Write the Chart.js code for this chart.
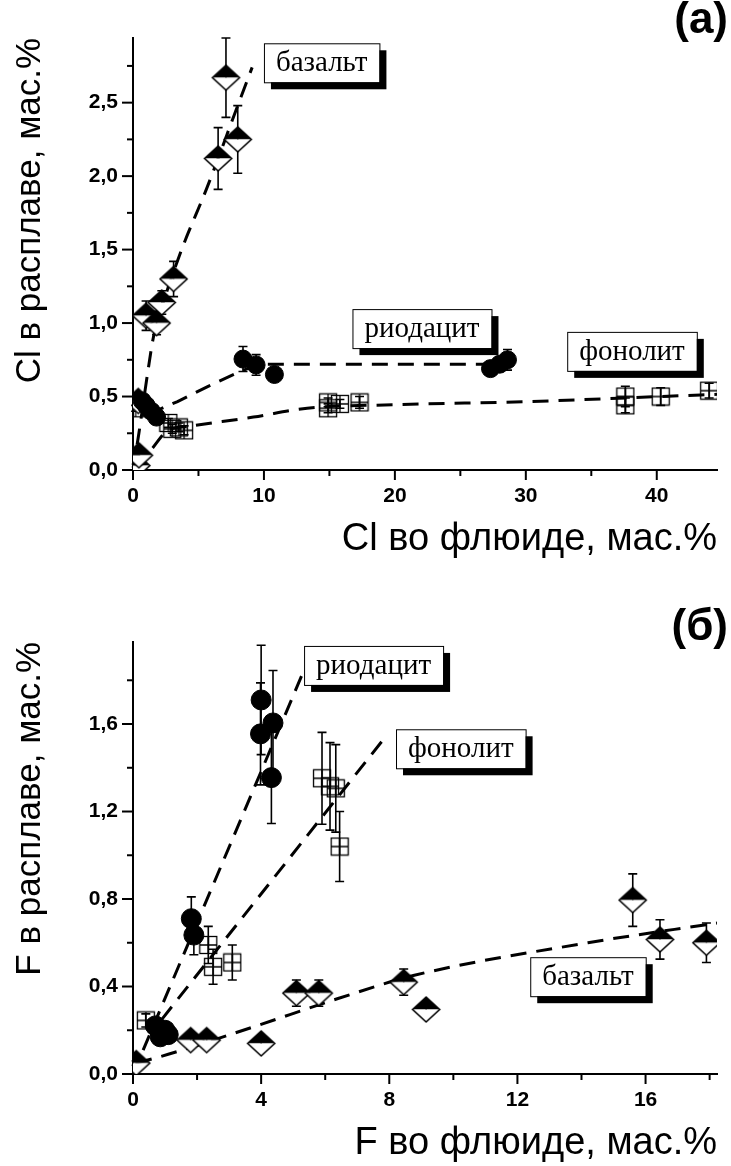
<!DOCTYPE html>
<html>
<head>
<meta charset="utf-8">
<script src="https://cdn.jsdelivr.net/npm/chart.js@4.4.0/dist/chart.umd.min.js"></script>
<style>
  html, body { margin: 0; padding: 0; background: #fff; }
  .panel { width: 731px; height: 583px; position: relative; }
</style>
</head>
<body>
<div class="panel"><canvas id="chartA" width="731" height="583"></canvas></div>
<div class="panel"><canvas id="chartB" width="731" height="583"></canvas></div>
<script>
// ---------- (a) Cl ----------
const basaltA_x   = [0.25, 0.45, 0.4, 1.0, 1.8, 2.2, 3.1, 6.5, 7.1, 8.0];
const basaltA_y   = [0.03, 0.10, 0.47, 1.05, 1.00, 1.14, 1.30, 2.12, 2.67, 2.25];
const basaltA_err = [0.01, 0.02, 0.03, 0.10, 0.08, 0.08, 0.12, 0.21, 0.27, 0.23];

const rhyoA_x   = [0.7, 1.0, 1.4, 1.8, 8.4, 9.4, 10.8, 27.3, 28.0, 28.6];
const rhyoA_y   = [0.47, 0.44, 0.40, 0.36, 0.755, 0.715, 0.65, 0.69, 0.72, 0.75];
const rhyoA_err = [0.03, 0.03, 0.03, 0.03, 0.085, 0.07, 0.04, 0.04, 0.05, 0.07];

const phonoA_x   = [0.2, 2.7, 3.0, 3.5, 3.9, 14.9, 14.9, 15.8, 17.3, 37.6, 37.6, 40.3, 44.0];
const phonoA_y   = [0.42, 0.32, 0.28, 0.29, 0.27, 0.46, 0.42, 0.45, 0.46, 0.50, 0.44, 0.50, 0.54];
const phonoA_err = [0.02, 0.03, 0.03, 0.03, 0.03, 0.03, 0.03, 0.03, 0.04, 0.07, 0.05, 0.06, 0.05];

const basLineA_x = [0, 0.45, 1.15, 1.55, 2.0, 2.6, 3.8, 5.6, 8.0, 9.1];
const basLineA_y = [0, 0.25, 0.68, 0.90, 1.05, 1.22, 1.52, 1.91, 2.48, 2.74];
const rhyoLineA_x = [1.2, 3.4, 5.7, 8.0, 9.6, 28.0];
const rhyoLineA_y = [0.38, 0.466, 0.568, 0.663, 0.72, 0.72];
const phonoLineA_x = [1.5, 2.6, 4.5, 9.2, 13.3, 20.4, 30, 35.7, 44.6];
const phonoLineA_y = [0.15, 0.265, 0.30, 0.36, 0.42, 0.445, 0.465, 0.484, 0.515];

const xTicksA  = [0, 5, 10, 15, 20, 25, 30, 35, 40];
const xLabelsA = ['0', '', '10', '', '20', '', '30', '', '40'];
const yTicksA  = [0, 0.25, 0.5, 0.75, 1, 1.25, 1.5, 1.75, 2, 2.25, 2.5, 2.75];
const yLabelsA = ['0,0', '', '0,5', '', '1,0', '', '1,5', '', '2,0', '', '2,5', ''];

// ---------- (б) F ----------
const basaltB_x   = [0.1, 1.8, 2.3, 4.0, 5.1, 5.8, 8.45, 9.15, 15.6, 16.45, 17.9];
const basaltB_y   = [0.05, 0.155, 0.155, 0.14, 0.37, 0.37, 0.42, 0.295, 0.795, 0.615, 0.60];
const basaltB_err = [0.01, 0.02, 0.02, 0.03, 0.06, 0.06, 0.06, 0.02, 0.12, 0.09, 0.09];

const rhyoB_x   = [0.7, 0.85, 1.0, 1.1, 1.82, 1.9, 4.0, 3.98, 4.37, 4.32];
const rhyoB_y   = [0.22, 0.17, 0.20, 0.18, 0.71, 0.635, 1.71, 1.555, 1.605, 1.355];
const rhyoB_err = [0.02, 0.02, 0.02, 0.02, 0.10, 0.09, 0.25, 0.233, 0.24, 0.21];

const phonoB_x   = [0.4, 2.35, 2.5, 3.1, 5.9, 6.15, 6.33, 6.45];
const phonoB_y   = [0.245, 0.59, 0.49, 0.51, 1.352, 1.315, 1.306, 1.04];
const phonoB_err = [0.03, 0.085, 0.08, 0.08, 0.21, 0.20, 0.20, 0.16];

const basLineB_x = [0.1, 1.1, 3.75, 6.4, 8.75, 14.2, 18.23];
const basLineB_y = [0.05, 0.09, 0.215, 0.345, 0.45, 0.60, 0.69];
const rhyoLineB_x = [0, 5.35];
const rhyoLineB_y = [0, 1.85];
const phonoLineB_x = [0.9, 7.9];
const phonoLineB_y = [0.25, 1.545];

const xTicksB  = [0, 2, 4, 6, 8, 10, 12, 14, 16, 18];
const xLabelsB = ['0', '', '4', '', '8', '', '12', '', '16', ''];
const yTicksB  = [0, 0.2, 0.4, 0.6, 0.8, 1.0, 1.2, 1.4, 1.6, 1.8];
const yLabelsB = ['0,0', '', '0,4', '', '0,8', '', '1,2', '', '1,6', ''];

// ---------- marker images ----------
function makeDiamond(w, h) {
  const c = document.createElement('canvas');
  c.width = w + 4; c.height = h + 4;
  const g = c.getContext('2d');
  const cx = c.width / 2, cy = c.height / 2;
  g.beginPath(); g.moveTo(cx, cy - h / 2); g.lineTo(cx + w / 2, cy); g.lineTo(cx - w / 2, cy); g.closePath();
  g.fillStyle = '#000'; g.fill();
  g.beginPath(); g.moveTo(cx - w / 2, cy); g.lineTo(cx + w / 2, cy); g.lineTo(cx, cy + h / 2); g.closePath();
  g.fillStyle = '#fff'; g.fill();
  g.beginPath(); g.moveTo(cx, cy - h / 2); g.lineTo(cx + w / 2, cy); g.lineTo(cx, cy + h / 2); g.lineTo(cx - w / 2, cy); g.closePath();
  g.lineWidth = 1.6; g.strokeStyle = '#000'; g.stroke();
  return c;
}
function makeSquare(s) {
  const c = document.createElement('canvas');
  c.width = s + 3; c.height = s + 3;
  const g = c.getContext('2d');
  const o = 1.5, m = c.width / 2;
  g.strokeStyle = '#000'; g.lineWidth = 1.3;
  g.strokeRect(o, o, s, s);
  g.beginPath(); g.moveTo(m, o); g.lineTo(m, o + s); g.moveTo(o, m); g.lineTo(o + s, m); g.stroke();
  return c;
}
const diamondImg = makeDiamond(27, 25);
const squareImg = makeSquare(17);

function pts(xs, ys) { return xs.map((x, i) => ({ x: x, y: ys[i] })); }

// ---------- plugins ----------
const errorBars = {
  id: 'errorBars',
  beforeDatasetsDraw(chart) {
    const ctx = chart.ctx, sx = chart.scales.x, sy = chart.scales.y;
    ctx.save();
    ctx.strokeStyle = '#000'; ctx.lineWidth = 1.6;
    chart.data.datasets.forEach(ds => {
      if (!ds.errY) return;
      ds.data.forEach((p, i) => {
        const x = sx.getPixelForValue(p.x);
        const y1 = sy.getPixelForValue(p.y - ds.errY[i]);
        const y2 = sy.getPixelForValue(p.y + ds.errY[i]);
        ctx.beginPath();
        ctx.moveTo(x, y1); ctx.lineTo(x, y2);
        ctx.moveTo(x - 4.5, y1); ctx.lineTo(x + 4.5, y1);
        ctx.moveTo(x - 4.5, y2); ctx.lineTo(x + 4.5, y2);
        ctx.stroke();
      });
    });
    ctx.restore();
  }
};

const decorations = {
  id: 'decorations',
  afterDraw(chart, args, opts) {
    const ctx = chart.ctx, sx = chart.scales.x, sy = chart.scales.y;
    ctx.save();
    // tick marks, long for labelled ticks
    ctx.strokeStyle = '#000'; ctx.lineWidth = 2;
    sx.ticks.forEach(t => {
      const p = sx.getPixelForValue(t.value);
      ctx.beginPath(); ctx.moveTo(p, sx.top); ctx.lineTo(p, sx.top + (t.label ? 10 : 6)); ctx.stroke();
    });
    sy.ticks.forEach(t => {
      const p = sy.getPixelForValue(t.value);
      ctx.beginPath(); ctx.moveTo(sy.right, p); ctx.lineTo(sy.right - (t.label ? 11 : 6), p); ctx.stroke();
    });
    // boxed labels with shadow
    ctx.font = '29px "Liberation Serif", "DejaVu Serif", serif';
    ctx.textBaseline = 'middle';
    ctx.textAlign = 'left';
    opts.boxes.forEach(b => {
      const x = sx.getPixelForValue(b.x), y = sy.getPixelForValue(b.y);
      const w = ctx.measureText(b.text).width + 24, h = 39;
      ctx.fillStyle = '#000';
      ctx.fillRect(x + 7, y + 7, w, h);
      ctx.fillStyle = '#fff';
      ctx.fillRect(x, y, w, h);
      ctx.lineWidth = 1;
      ctx.strokeRect(x + 0.5, y + 0.5, w, h);
      ctx.fillStyle = '#000';
      ctx.fillText(b.text, x + 12, y + h / 2 + 1);
    });
    // panel tag
    ctx.font = 'bold 44px "Liberation Sans", Arial, sans-serif';
    ctx.textAlign = 'right';
    ctx.textBaseline = 'alphabetic';
    ctx.fillText(opts.tag.text, opts.tag.x, opts.tag.y);
    ctx.restore();
  }
};

Chart.defaults.font.family = '"Liberation Sans", Arial, sans-serif';
Chart.defaults.color = '#000';

function markerSet(xs, ys, err, kind, r) {
  return {
    data: pts(xs, ys),
    errY: err,
    pointStyle: kind === 'circle' ? 'circle' : (kind === 'diamond' ? diamondImg : squareImg),
    pointRadius: r,
    pointBackgroundColor: '#000',
    pointBorderColor: '#000',
    pointBorderWidth: 1,
    showLine: false
  };
}
function lineSet(xs, ys, curved) {
  return {
    data: pts(xs, ys),
    showLine: true,
    pointRadius: 0,
    borderColor: '#000',
    borderWidth: 3,
    borderDash: [16, 10],
    cubicInterpolationMode: curved ? 'monotone' : 'default',
    tension: curved ? 0.4 : 0,
    fill: false
  };
}

function makeChart(id, cfg) {
  return new Chart(document.getElementById(id), {
    type: 'scatter',
    data: { datasets: cfg.datasets },
    options: {
      responsive: false,
      animation: false,
      events: [],
      layout: { padding: { top: cfg.padTop, right: 14, left: 0, bottom: 0 } },
      plugins: {
        legend: { display: false },
        tooltip: { enabled: false },
        decorations: { boxes: cfg.boxes, tag: cfg.tag }
      },
      scales: {
        x: {
          type: 'linear', min: 0, max: cfg.xMax,
          afterBuildTicks: s => { s.ticks = cfg.xTicks.map(v => ({ value: v })); },
          afterFit: s => { s.height = cfg.xAxisH; },
          grid: { display: true, drawOnChartArea: false, drawTicks: false },
          border: { display: true, color: '#000', width: 2 },
          ticks: {
            padding: 14,
            maxRotation: 0,
            autoSkip: false,
            font: { size: 21, weight: 'bold' },
            callback: (v, i) => cfg.xLabels[i]
          },
          title: {
            display: true, text: cfg.xTitle, align: 'end',
            font: { size: 38 }, padding: { top: 0, bottom: cfg.xTitlePad }
          }
        },
        y: {
          type: 'linear', min: 0, max: cfg.yMax,
          afterBuildTicks: s => { s.ticks = cfg.yTicks.map(v => ({ value: v })); },
          afterFit: s => { s.width = 133; },
          grid: { display: true, drawOnChartArea: false, drawTicks: false },
          border: { display: true, color: '#000', width: 2 },
          ticks: {
            padding: 15,
            autoSkip: false,
            font: { size: 21, weight: 'bold' },
            callback: (v, i) => cfg.yLabels[i]
          },
          title: {
            display: true, text: cfg.yTitle, align: 'end',
            font: { size: 35 }, padding: { top: 9, bottom: 0 }
          }
        }
      }
    },
    plugins: [errorBars, decorations]
  });
}

makeChart('chartA', {
  datasets: [
    markerSet(rhyoA_x, rhyoA_y, rhyoA_err, 'circle', 9),
    markerSet(basaltA_x, basaltA_y, basaltA_err, 'diamond', 12),
    markerSet(phonoA_x, phonoA_y, phonoA_err, 'square', 9),
    lineSet(basLineA_x, basLineA_y, true),
    lineSet(rhyoLineA_x, rhyoLineA_y, false),
    lineSet(phonoLineA_x, phonoLineA_y, true)
  ],
  padTop: 38, xAxisH: 113, xTitlePad: 21,
  xMax: 44.6, yMax: 2.94,
  xTicks: xTicksA, xLabels: xLabelsA, yTicks: yTicksA, yLabels: yLabelsA,
  xTitle: 'Cl во флюиде, мас.%', yTitle: 'Cl в расплаве, мас.%',
  boxes: [
    { text: 'базальт', x: 10.0, y: 2.904 },
    { text: 'риодацит', x: 16.76, y: 1.095 },
    { text: 'фонолит', x: 33.16, y: 0.94 }
  ],
  tag: { text: '(a)', x: 728, y: 33 }
});

makeChart('chartB', {
  datasets: [
    markerSet(rhyoB_x, rhyoB_y, rhyoB_err, 'circle', 10),
    markerSet(basaltB_x, basaltB_y, basaltB_err, 'diamond', 12),
    markerSet(phonoB_x, phonoB_y, phonoB_err, 'square', 9),
    lineSet(rhyoLineB_x, rhyoLineB_y, false),
    lineSet(phonoLineB_x, phonoLineB_y, false),
    lineSet(basLineB_x, basLineB_y, true)
  ],
  padTop: 59, xAxisH: 92, xTitlePad: 0,
  xMax: 18.23, yMax: 1.975,
  xTicks: xTicksB, xLabels: xLabelsB, yTicks: yTicksB, yLabels: yLabelsB,
  xTitle: 'F во флюиде, мас.%', yTitle: 'F в расплаве, мас.%',
  boxes: [
    { text: 'риодацит', x: 5.34, y: 1.957 },
    { text: 'фонолит', x: 8.21, y: 1.576 },
    { text: 'базальт', x: 12.4, y: 0.534 }
  ],
  tag: { text: '(б)', x: 728, y: 57 }
});
</script>
</body>
</html>
